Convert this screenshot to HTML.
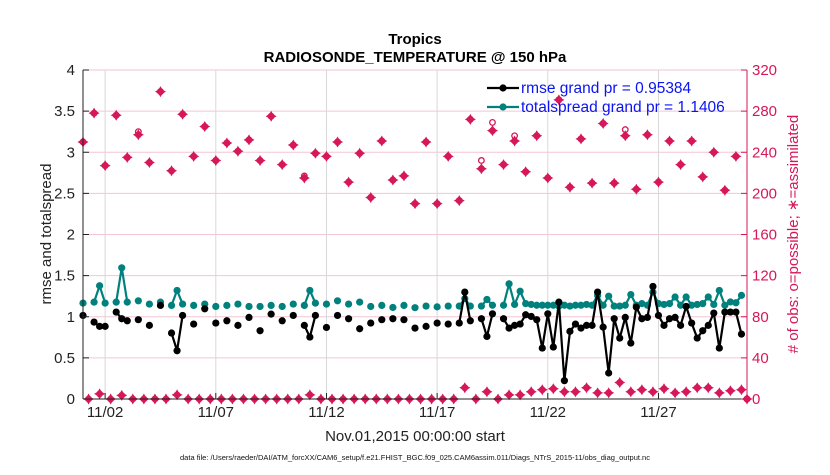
<!DOCTYPE html>
<html><head><meta charset="utf-8"><style>
body{margin:0;background:#fff;}
svg text{font-family:"Liberation Sans",Arial,sans-serif;}
</style></head><body>
<svg id="chart" width="830" height="470" xmlns="http://www.w3.org/2000/svg">
<g id="grid"></g>
<g id="marks"></g>
<g id="axes"></g>
<text x="415" y="44" text-anchor="middle" font-size="15" font-weight="bold">Tropics</text>
<text x="415" y="62" text-anchor="middle" font-size="15" font-weight="bold">RADIOSONDE_TEMPERATURE @ 150 hPa</text>
<text transform="translate(51,234) rotate(-90)" text-anchor="middle" font-size="15" fill="#222">rmse and totalspread</text>
<text transform="translate(798,234) rotate(-90)" text-anchor="middle" font-size="15" fill="#d6175a"># of obs: o=possible; ∗=assimilated</text>
<text x="415" y="441" text-anchor="middle" font-size="15" fill="#222">Nov.01,2015 00:00:00 start</text>
<text x="415" y="460" text-anchor="middle" font-size="7.5" fill="#111">data file: /Users/raeder/DAI/ATM_forcXX/CAM6_setup/f.e21.FHIST_BGC.f09_025.CAM6assim.011/Diags_NTrS_2015-11/obs_diag_output.nc</text>
<g id="legend"></g>
</svg>
<script>
// 6-hourly index j (day = j/4)
const rmse = {0:1.016,2:.935,3:.883,4:.883,6:1.057,7:.976,8:.951,10:.964,12:.895,14:1.138,16:.802,17:.587,18:1.016,20:.911,22:1.097,24:.923,26:.951,28:.895,30:.992,32:.830,34:1.032,36:.951,38:1.016,40:.895,41:.753,42:1.016,44:.870,46:1.016,48:.976,50:.854,52:.923,54:.964,56:.976,58:.964,
60:.862,62:.883,64:.923,66:.911,68:.923,69:1.30,70:.951,72:.976,73:.761,74:1.036,76:.976,77:.862,78:.895,79:.911,80:1.024,81:1.004,82:.964,83:.619,84:1.036,85:.632,86:1.178,87:.223,88:.822,89:.911,90:.862,91:.895,92:.895,93:1.30,94:.874,95:.316,96:.976,97:.741,98:.992,99:.680,100:1.117,101:.976,102:.992,103:1.368,104:1.016,105:.895,106:.976,107:.992,108:.895,109:1.125,110:.923,111:.741,112:.830,113:.895,114:1.045,115:.619,116:1.057,117:1.057,118:1.057,119:.789};
const spread = {0:1.166,2:1.178,3:1.377,4:1.166,6:1.178,7:1.595,8:1.178,10:1.194,12:1.154,14:1.178,16:1.138,17:1.32,18:1.154,20:1.138,22:1.154,24:1.125,26:1.138,28:1.154,30:1.125,32:1.125,34:1.138,36:1.125,38:1.154,40:1.138,41:1.32,42:1.166,44:1.154,46:1.194,48:1.154,50:1.178,52:1.125,54:1.138,56:1.113,58:1.138,
60:1.11,62:1.13,64:1.12,66:1.13,68:1.13,69:1.22,70:1.13,72:1.13,73:1.21,74:1.14,76:1.14,77:1.40,78:1.15,79:1.31,80:1.16,81:1.15,82:1.14,83:1.14,84:1.14,85:1.14,86:1.13,87:1.14,88:1.13,89:1.14,90:1.14,91:1.15,92:1.14,93:1.26,94:1.14,95:1.25,96:1.13,97:1.13,98:1.14,99:1.27,100:1.14,101:1.16,102:1.14,103:1.30,104:1.16,105:1.15,106:1.16,107:1.24,108:1.14,109:1.24,110:1.14,111:1.15,112:1.16,113:1.24,114:1.15,115:1.32,116:1.14,117:1.18,118:1.17,119:1.26};
const obsEven = [250,278,227,276,235,257,230,299,222,277,236,265,232,249,241,252,232,275,228,247,215,239,236,250,211,239,196,251,213,217,190,250,190,236,193,272,224,261,228,251,221,256,215,291,206,253,210,268,210,256,204,257,211,251,228,251,216,240,203,236,0];
const obsOdd = [0,5,0,3.5,0,0,0,0,4,0,0,0,0,0,0,0,0,0,0,0,4,0,0,0,0,0,0,0,0,
0,0,0,0,0,11,0,7,0,4,4,7,9,10,7,7,11,6,6,16,7,9,7,10,6,7,11,11,6,8,9];
const possibleExtra = {10:260,40:217,72:232,74:269,78:256,98:262};
const leftTicks=[0,0.5,1,1.5,2,2.5,3,3.5,4];
const rightTicks=[0,40,80,120,160,200,240,280,320];
const dateTicks=["11/02","11/07","11/12","11/17","11/22","11/27"];
const dateTickDays=[1,6,11,16,21,26];

const X0=83,X1=747,Y0=399,Y1=70;
const xs=d=>X0+(X1-X0)*d/30;
const yl=v=>Y0-(Y0-Y1)*v/4;
const yr=v=>Y0-(Y0-Y1)*v/320;
const NS="http://www.w3.org/2000/svg";
function mk(tag,parent,attrs){const e=document.createElementNS(NS,tag);for(const k in attrs)e.setAttribute(k,attrs[k]);parent.appendChild(e);return e;}
const grid=document.getElementById('grid'),marks=document.getElementById('marks'),axes=document.getElementById('axes'),legend=document.getElementById('legend');
const PINK="#d6175a";
rightTicks.forEach(t=>{if(t===0)return;const l=mk('line',grid,{x1:X0,x2:X1,y1:yr(t),y2:yr(t),stroke:'#f2c6d4','stroke-width':1});

});
dateTickDays.forEach(d=>{const l=mk('line',grid,{x1:xs(d),x2:xs(d),y1:Y1,y2:Y0,stroke:'#d8d8d8','stroke-width':1});

});
let a=mk('line',axes,{x1:X0,x2:X0,y1:Y1,y2:Y0,stroke:'#222','stroke-width':1});


a=mk('line',axes,{x1:X0,x2:X1,y1:Y0,y2:Y0,stroke:'#222','stroke-width':1});


a=mk('line',axes,{x1:X1,x2:X1,y1:Y1,y2:Y0,stroke:PINK,'stroke-width':1});


leftTicks.forEach(t=>{mk('line',axes,{x1:X0,x2:X0+6,y1:yl(t),y2:yl(t),stroke:'#222'});
const tx=mk('text',axes,{x:X0-8,y:yl(t)+5,'text-anchor':'end','font-size':15,fill:'#222'});tx.textContent=t;

});
rightTicks.forEach(t=>{mk('line',axes,{x1:X1-6,x2:X1,y1:yr(t),y2:yr(t),stroke:PINK});
const tx=mk('text',axes,{x:X1+5,y:yr(t)+5,'font-size':15,fill:PINK});tx.textContent=t;

});
dateTicks.forEach((s,i)=>{mk('line',axes,{x1:xs(dateTickDays[i]),x2:xs(dateTickDays[i]),y1:Y0,y2:Y0-6,stroke:'#222'});
const tx=mk('text',axes,{x:xs(dateTickDays[i]),y:Y0+18,'text-anchor':'middle','font-size':15,fill:'#222'});tx.textContent=s;

});
function star(x,y,name){const g=mk('g',marks,{});


mk('polygon',g,{points:`${x},${y-5.5} ${x+2},${y-2} ${x+5.5},${y} ${x+2},${y+2} ${x},${y+5.5} ${x-2},${y+2} ${x-5.5},${y} ${x-2},${y-2}`,fill:PINK});
mk('circle',g,{cx:x,cy:y,r:3.4,fill:PINK});}
function ring(x,y){const c=mk('circle',marks,{cx:x,cy:y,r:2.8,fill:'none',stroke:PINK,'stroke-width':1.3});

}
obsEven.forEach((v,i)=>{const j=2*i;const pv=possibleExtra[j];ring(xs(j/4),yr(pv!==undefined?pv:v));star(xs(j/4),yr(v),'obs-assimilated-marker');});
obsOdd.forEach((v,i)=>{const j=2*i+1;star(xs(j/4),yr(v),'obs-assimilated-marker');});
function series(data,color,name){const keys=Object.keys(data).map(Number).sort((a,b)=>a-b);
let seg=[];const segs=[];keys.forEach((k,i)=>{if(i>0&&k!==keys[i-1]+1){segs.push(seg);seg=[];}seg.push(k);});segs.push(seg);
segs.forEach(s=>{if(s.length>1){const p=mk('polyline',marks,{points:s.map(k=>xs(k/4)+','+yl(data[k])).join(' '),fill:'none',stroke:color,'stroke-width':2.2});

}});
keys.forEach(k=>{const c=mk('circle',marks,{cx:xs(k/4),cy:yl(data[k]),r:3.6,fill:color});

});}
series(spread,'#00817d','totalspread');
series(rmse,'#000','rmse');
[["#000","rmse grand pr = 0.95384",88],["#00817d","totalspread grand pr = 1.1406",107]].forEach(r=>{
const g=mk('g',legend,{});


mk('line',g,{x1:487,x2:519,y1:r[2],y2:r[2],stroke:r[0],'stroke-width':2.2});
mk('circle',g,{cx:503,cy:r[2],r:3.6,fill:r[0]});
const t=mk('text',g,{x:521,y:r[2]+5,'font-size':15.5,fill:'#0a14f0'});t.textContent=r[1];});
</script>
</body></html>
